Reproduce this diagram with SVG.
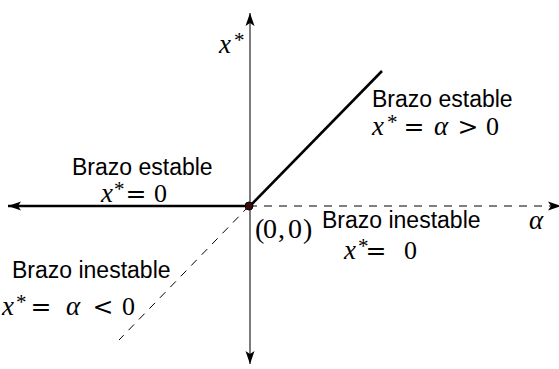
<svg xmlns="http://www.w3.org/2000/svg" width="559" height="369" viewBox="0 0 559 369">
<style>
.sans{font-family:"Liberation Sans",Arial,sans-serif;font-size:23px;fill:#000}
.m{font-family:"Liberation Serif","Times New Roman",serif;font-size:26px;fill:#000}
.i{font-style:italic;font-size:27px}
.op{font-family:"DejaVu Serif",serif;font-size:25px}
.sup{font-size:21px;font-style:normal}
.axis{stroke:#444;stroke-width:1.4;fill:none}
.thick{stroke:#000;stroke-width:2.6;fill:none}
.dash{stroke:#000;stroke-width:1;stroke-dasharray:8 7;fill:none}
</style>
<defs>
<marker id="ah" viewBox="-14 -5 15 10" refX="0" refY="0" markerWidth="15" markerHeight="10" markerUnits="userSpaceOnUse" orient="auto-start-reverse">
<path d="M0,0 L-13,-4.5 L-10,0 L-13,4.5 Z" fill="#000"/>
</marker>
</defs>
<g id="connectors">
<path class="axis" d="M250,364 L250,13" marker-start="url(#ah)" marker-end="url(#ah)"/>
<path class="thick" d="M249,206 L8,206" marker-end="url(#ah)"/>
<path class="dash" d="M249,206 L561,206" marker-end="url(#ah)"/>
<path class="thick" d="M250,206 L382,71"/>
<path class="dash" d="M249,206 L119,340"/>
</g>
<g id="origin">
<circle cx="249" cy="206" r="4" fill="#3d0a0a" stroke="#000" stroke-width="1"/>
<text class="m" y="238" style="font-size:28px"><tspan x="255">(</tspan><tspan x="263">0</tspan><tspan x="278">,</tspan><tspan x="288">0</tspan><tspan x="303">)</tspan></text>
</g>
<g id="label-xstar">
<text class="m" y="53"><tspan class="i" x="219">x</tspan><tspan class="sup" x="234" dy="-6">*</tspan></text>
</g>
<g id="label-alpha">
<text class="m i" x="529" y="229">α</text>
</g>
<g id="stable-left">
<text class="sans" x="72" y="175">Brazo estable</text>
<text class="m" y="202"><tspan class="i" x="101">x</tspan><tspan class="sup" x="114" dy="-6">*</tspan><tspan class="op" x="125.5" dy="6">=</tspan><tspan x="154">0</tspan></text>
</g>
<g id="stable-right">
<text class="sans" x="372" y="107">Brazo estable</text>
<text class="m" y="135"><tspan class="i" x="372">x</tspan><tspan class="sup" x="387" dy="-6">*</tspan><tspan class="op" x="403.5" dy="6">=</tspan><tspan class="i" x="434">α</tspan><tspan class="op" x="457.5">&gt;</tspan><tspan x="486">0</tspan></text>
</g>
<g id="unstable-right">
<text class="sans" x="322" y="228">Brazo inestable</text>
<text class="m" y="259"><tspan class="i" x="344">x</tspan><tspan class="sup" x="358" dy="-6">*</tspan><tspan class="op" x="365.5" dy="6">=</tspan><tspan x="404">0</tspan></text>
</g>
<g id="unstable-left">
<text class="sans" x="12" y="278">Brazo inestable</text>
<text class="m" y="315"><tspan class="i" x="2">x</tspan><tspan class="sup" x="16" dy="-6">*</tspan><tspan class="op" x="30.5" dy="6">=</tspan><tspan class="i" x="66">α</tspan><tspan class="op" x="92.5">&lt;</tspan><tspan x="122">0</tspan></text>
</g>
</svg>
